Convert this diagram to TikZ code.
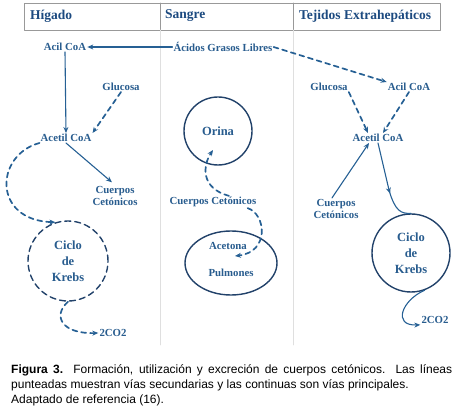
\documentclass[tikz,border=0pt]{standalone}
\usepackage{fontspec}
\setmainfont{Liberation Serif}
\newfontfamily\capfont{Liberation Sans}
\usetikzlibrary{arrows.meta,shapes.geometric,decorations.markings}
\definecolor{txtblue}{RGB}{40,92,142}
\definecolor{headblue}{RGB}{28,74,128}
\definecolor{lineblue}{RGB}{38,96,148}
\definecolor{ringblue}{RGB}{34,66,106}
\begin{document}
\begin{tikzpicture}[x=1pt,y=-1pt,>={Stealth[length=6pt,width=5pt]},line join=round,line cap=round,
	lbl/.style={font=\bfseries\fontsize{10.8}{12.5}\selectfont,text=txtblue,inner sep=1pt,align=center},
	head/.style={font=\bfseries\fontsize{13.5}{15}\selectfont,text=headblue,anchor=west,inner sep=0pt},
	ring/.style={circle,draw=ringblue,line width=1.4pt,font=\bfseries\fontsize{12.5}{16}\selectfont,text=txtblue,align=center,inner sep=0pt},
	main/.style={draw=lineblue,line width=1.1pt},
	sec/.style={draw=lineblue,line width=1.7pt,dash pattern=on 5pt off 4pt}]
	\useasboundingbox (0,0) rectangle (460,419);
	% cabecera y columnas
	\draw[gray!80,line width=.6pt] (24,3) rectangle (440,30) (160,3)--(160,30) (293,3)--(293,30);
	\draw[gray!25,line width=.6pt] (160,30)--(160,345) (293,30)--(293,345);
	\foreach \nm/\x/\txt in {hig/30/Hígado,san/165/Sangre,tej/299/Tejidos Extrahepáticos}
		\node[head] (\nm) at (\x,16) {\txt};
	% etiquetas
	\foreach \nm/\p/\txt in {acilL/{65,47}/Acil CoA,agl/{223,47}/Ácidos Grasos Libres,glucL/{121,87}/Glucosa,acetL/{66,138}/Acetil CoA,cuerL/{115,196}/{Cuerpos\\Cetónicos},co2L/{113,333}/2CO2,cuerM/{213,202}/Cuerpos Cetónicos,acetM/{228,246}/Acetona,pulmM/{231,273}/Pulmones,glucR/{329,87}/Glucosa,acilR/{409,87}/Acil CoA,acetR/{378,138}/Acetil CoA,cuerR/{336,209}/{Cuerpos\\Cetónicos},co2R/{435,320}/2CO2}
		\node[lbl] (\nm) at (\p) {\txt};
	% circulos
	\node[ring,dash pattern=on 6pt off 4pt,minimum size=80pt] (krebsL) at (68,261) {Ciclo\\de\\Krebs};
	\node[ring,minimum size=78pt] (krebsR) at (411,253) {Ciclo\\de\\Krebs};
	\node[ring,minimum size=68pt] (orina) at (218,131) {Orina};
	\node[ellipse,draw=ringblue,line width=1.4pt,minimum width=92pt,minimum height=64pt] (pulm) at (231,263) {};
	\coordinate (orinaIn) at (213,150);
	\coordinate (acetIn) at (235,256);
	% vias principales
	\draw[main,->] (agl) -- (acilL);
	\draw[main,->] (acilL.south) -- (acetL.north);
	\draw[main,->,shorten >=4pt] (acetL.south) -- (cuerL.north);
	\draw[main,->] ([xshift=-4pt]cuerR.north) -- ([xshift=-9pt]acetR.south);
	\draw[main,decoration={markings,mark=at position .62 with {\arrow{>}}},postaction={decorate}] (acetR.south) -- (389,190) .. controls (395,211) and (401,214) .. (krebsR.north);
	\draw[main,->] (krebsR.-70) .. controls (402,300) and (392,326) .. (co2R.south west);
	% vias secundarias
	\draw[sec,->] (agl.east) -- (acilR.north west);
	\draw[sec,->] (glucL.south) -- (acetL.north east);
	\draw[sec,->] (glucR.south east) -- ([xshift=-10pt]acetR.north);
	\draw[sec,->] (acilR.south) -- ([xshift=5pt]acetR.north);
	\draw[sec,->] (acetL.south west) .. controls (-5,155) and (-8,220) .. (krebsL.108);
	\draw[sec,->] (krebsL.south) .. controls (52,316) and (62,334) .. (co2L.west);
	\draw[sec,->] ([xshift=16pt]cuerM.north) .. controls (200,188) and (203,165) .. (orinaIn);
	\draw[sec,->] (cuerM.-10) .. controls (266,214) and (270,252) .. (acetIn);
	% pie de figura
	\node[anchor=north west,align=left,inner sep=0pt,font=\capfont\fontsize{12}{15}\selectfont] (cap) at (11,364) {\makebox[441pt][s]{\textbf{Figura 3.} Formación, utilización y excreción de cuerpos cetónicos. Las líneas}\\ punteadas muestran vías secundarias y las continuas son vías principales.\\ Adaptado de referencia (16).};
\end{tikzpicture}
\end{document}
